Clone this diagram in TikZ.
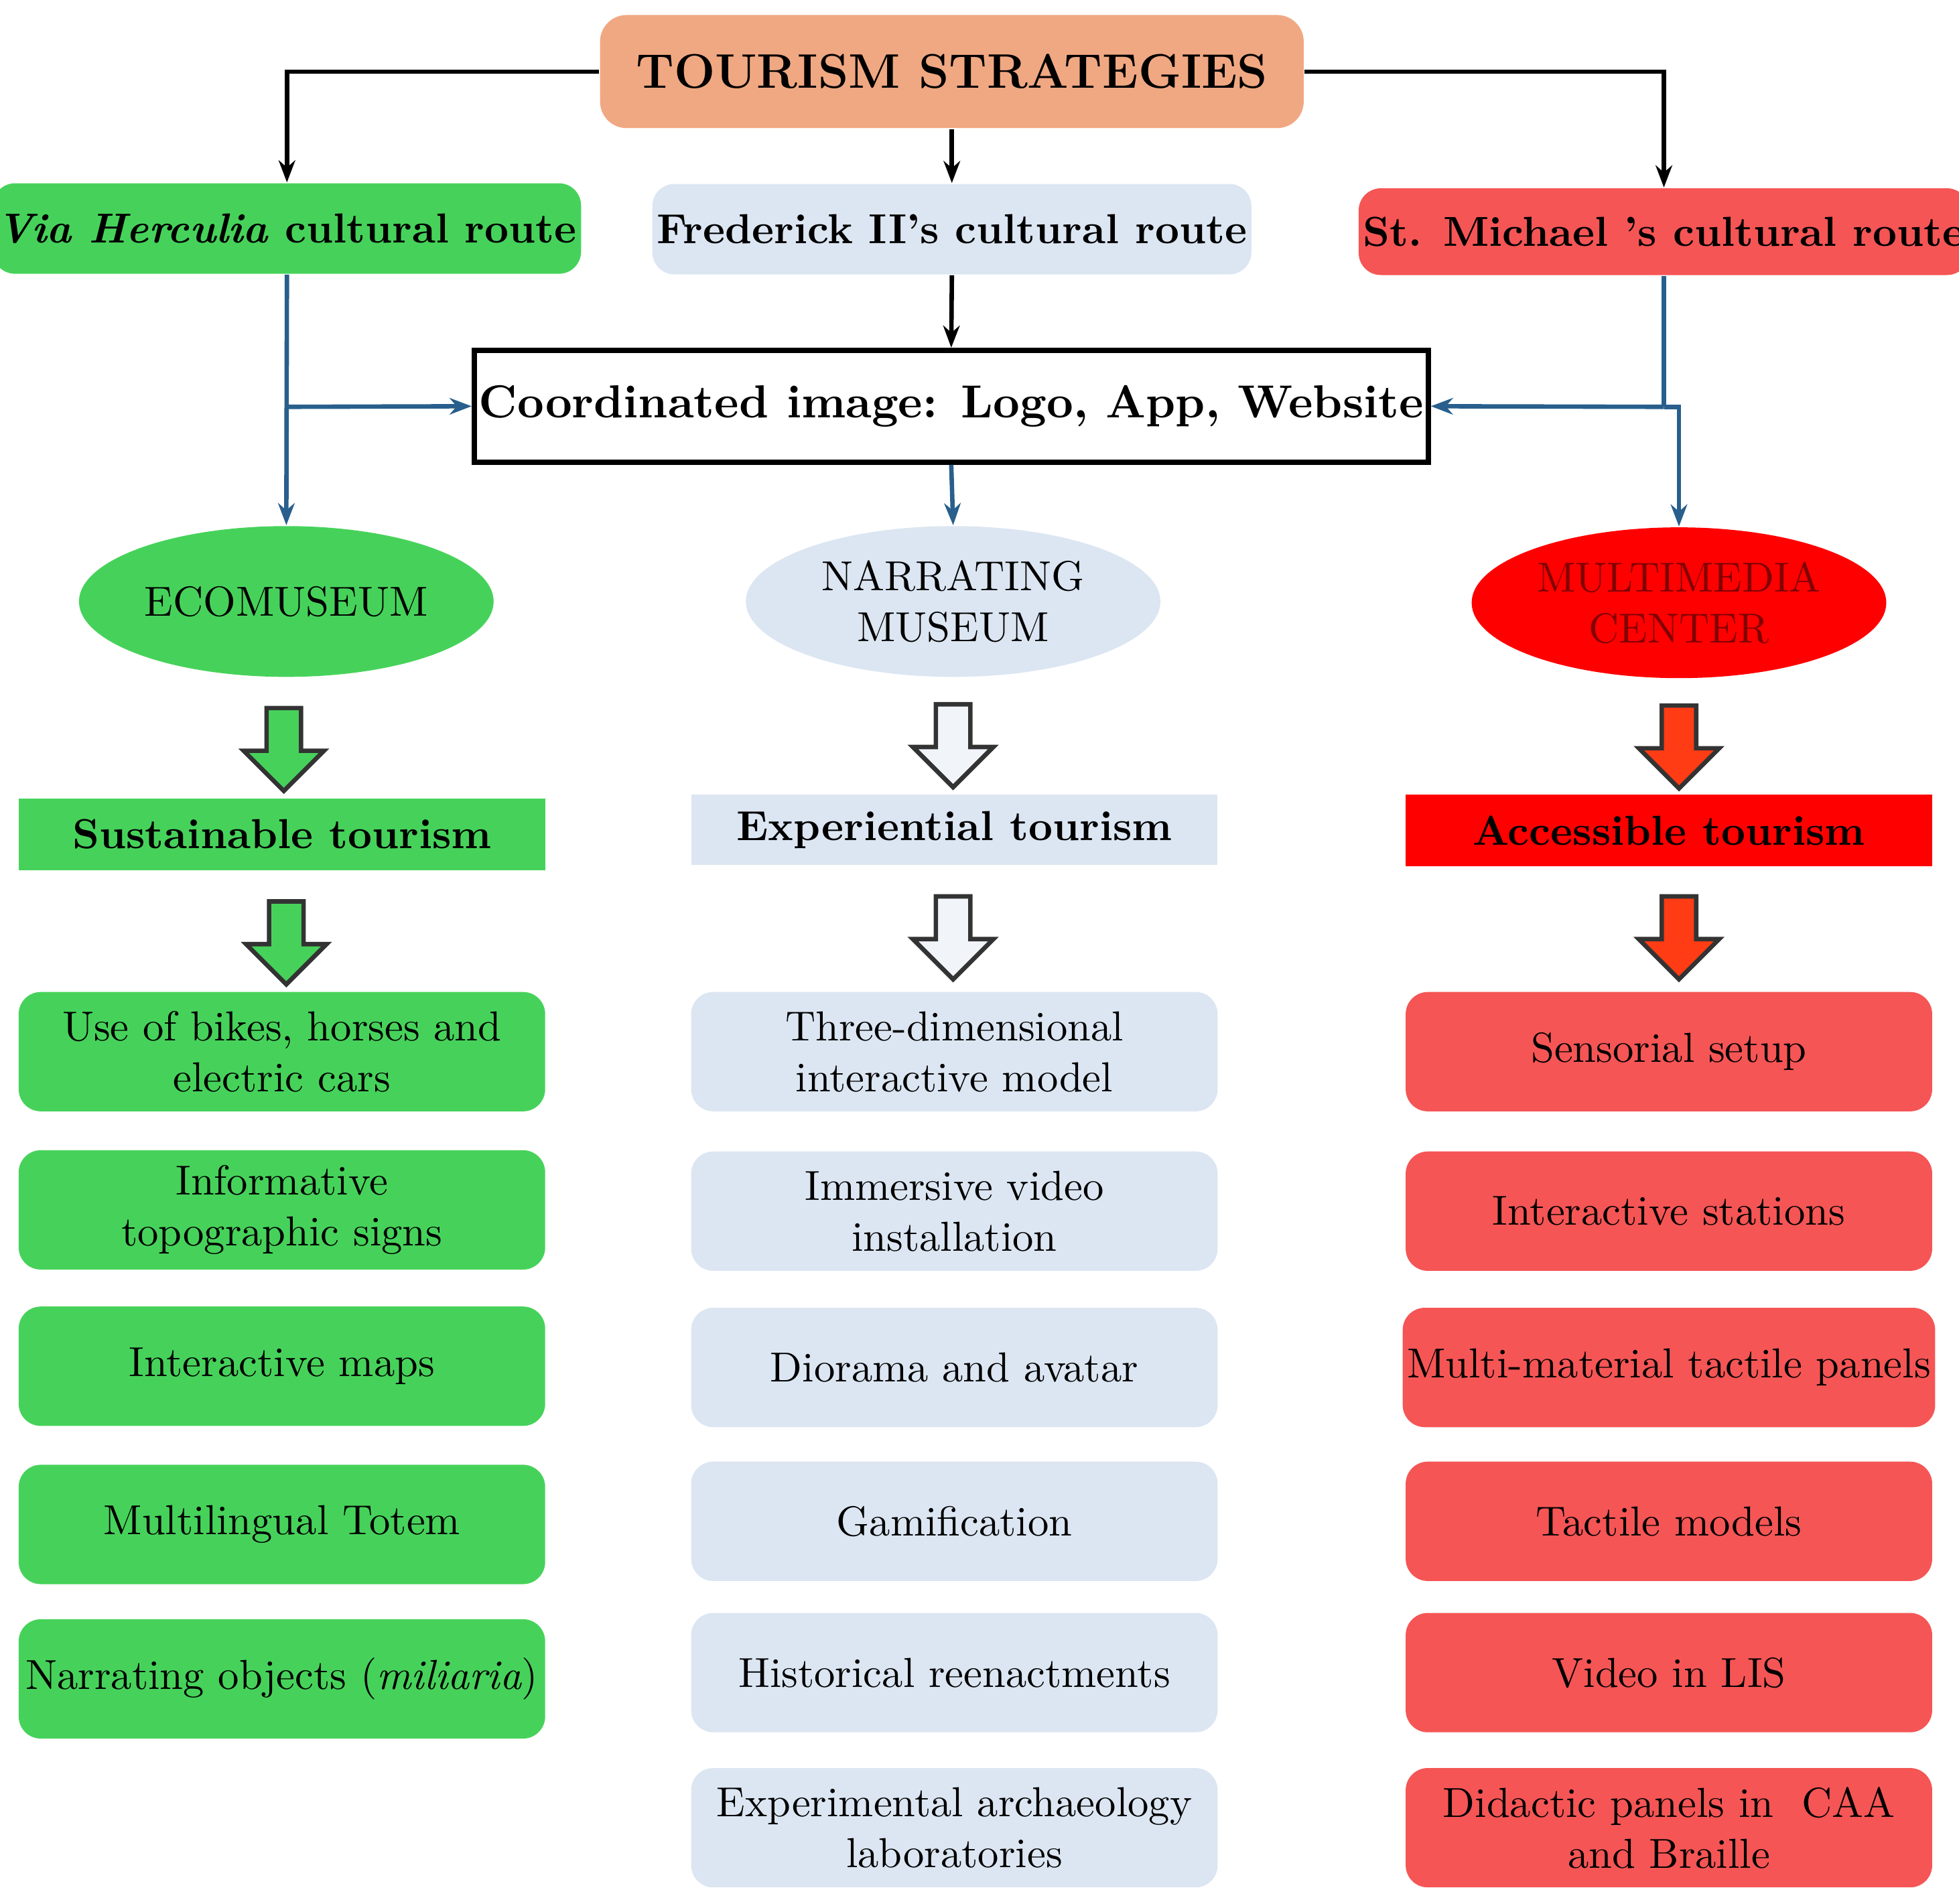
\documentclass[tikz,border=0pt]{standalone}
\usetikzlibrary{shapes.geometric,shapes.arrows,arrows.meta}
\definecolor{gr}{RGB}{70,210,90}
\definecolor{lb}{RGB}{220,230,242}
\definecolor{rd}{RGB}{245,85,85}
\definecolor{pr}{RGB}{255,0,0}
\definecolor{org}{RGB}{240,168,130}
\definecolor{ln}{RGB}{40,95,140}
\definecolor{ar}{RGB}{255,60,20}
\begin{document}
\begin{tikzpicture}[x=0.01cm,y=-0.01cm,
 every node/.style={font=\fontsize{9.5}{11.5}\selectfont,align=center,inner sep=1pt},
 item/.style={rounded corners=5pt,minimum width=4.19cm,minimum height=0.95cm},
 g/.style={item,fill=gr}, b/.style={item,fill=lb}, r/.style={item,fill=rd},
 bar/.style={minimum width=4.19cm,minimum height=0.57cm,font=\fontsize{9.5}{11.5}\selectfont\bfseries},
 route/.style={rounded corners=5pt,minimum height=0.72cm,font=\fontsize{9.5}{11.5}\selectfont\bfseries},
 ell/.style={ellipse,minimum width=3.3cm,minimum height=1.2cm},
 blk/.style={single arrow,shape border rotate=270,minimum height=0.66cm,minimum width=0.64cm,single arrow head extend=0.13cm,inner sep=0.08cm,draw=black!80,line width=1pt},
 bk/.style={-{Stealth[length=5pt]},line width=1pt},
 bl/.style={-{Stealth[length=5pt]},line width=1pt,draw=ln}]
\useasboundingbox (0,0) rectangle (1560,1516);
\node[fill=org,rounded corners=6pt,minimum width=5.6cm,minimum height=0.9cm,font=\fontsize{11}{13}\selectfont\bfseries] (t) at (758,57) {TOURISM STRATEGIES};
\node[route,fill=gr,minimum width=4.37cm] (vh) at (228.5,182) {\textit{Via Herculia} cultural route};
\node[route,fill=lb,minimum width=4.6cm] (fr) at (758,182.5) {Frederick II's cultural route};
\node[route,fill=rd,minimum width=4.62cm,minimum height=0.69cm] (sm) at (1325,184.5) {St. Michael 's cultural route};
\node[draw,line width=1.2pt,minimum width=7.47cm,minimum height=0.89cm,font=\fontsize{10.5}{12.5}\selectfont\bfseries] (co) at (757.5,323.5) {Coordinated image: Logo, App, Website};
\node[ell,fill=gr] (e1) at (228,479) {ECOMUSEUM};
\node[ell,fill=lb] (e2) at (759,479) {NARRATING\\MUSEUM};
\node[ell,fill=pr,text=red!50!black] (e3) at (1337,480) {MULTIMEDIA\\CENTER};
\draw[bk] (t.west) -| (vh.north);
\draw[bk] (t.south) -- (fr.north);
\draw[bk] (t.east) -| (sm.north);
\draw[bk] (fr.south) -- (co.north);
\coordinate (j1) at (228,324);
\coordinate (j2) at (1325,324);
\draw[bl] (vh.south) -- (e1.north);
\draw[bl] (j1) -- (co.west);
\draw[line width=1pt,ln] (sm.south) -- (j2);
\draw[bl] (j2) -- (co.east);
\draw[bl] (j2) -| (e3.north);
\draw[bl] (co.south) -- (e2.north);
\node[blk,fill=gr] (a1) at (226,590) {};
\node[blk,fill=gr] (a2) at (228,744) {};
\node[blk,fill=lb!40] (a3) at (759,587) {};
\node[blk,fill=lb!40] (a4) at (759,740) {};
\node[blk,fill=ar] (a5) at (1337,588) {};
\node[blk,fill=ar] (a6) at (1337,740) {};
\node[bar,fill=gr] (s1) at (224.5,664.5) {Sustainable tourism};
\node[bar,fill=lb,minimum height=0.56cm] (s2) at (760,661) {Experiential tourism};
\node[bar,fill=pr] (s3) at (1329,661.5) {Accessible tourism};
\node[g] (g1) at (224.5,837.5) {Use of bikes, horses and\\electric cars};
\node[g] (g2) at (224.5,963.5) {Informative\\topographic signs};
\node[g] (g3) at (224.5,1088) {Interactive maps};
\node[g] (g4) at (224.5,1214) {Multilingual Totem};
\node[g] (g5) at (224.5,1337) {Narrating objects (\textit{miliaria})};
\node[b] (b1) at (760,837.5) {Three-dimensional\\interactive model};
\node[b] (b2) at (760,964.5) {Immersive video\\installation};
\node[b] (b3) at (760,1089) {Diorama and avatar};
\node[b] (b4) at (760,1211.5) {Gamification};
\node[b] (b5) at (760,1332) {Historical reenactments};
\node[b] (b6) at (760,1455.5) {Experimental archaeology\\laboratories};
\node[r] (r1) at (1329,837.5) {Sensorial setup};
\node[r] (r2) at (1329,964.5) {Interactive stations};
\node[r] (r3) at (1329,1089) {Multi-material tactile panels};
\node[r] (r4) at (1329,1211.5) {Tactile models};
\node[r] (r5) at (1329,1332) {Video in LIS};
\node[r] (r6) at (1329,1455.5) {Didactic panels in\ \ CAA\\and Braille};
\end{tikzpicture}
\end{document}
